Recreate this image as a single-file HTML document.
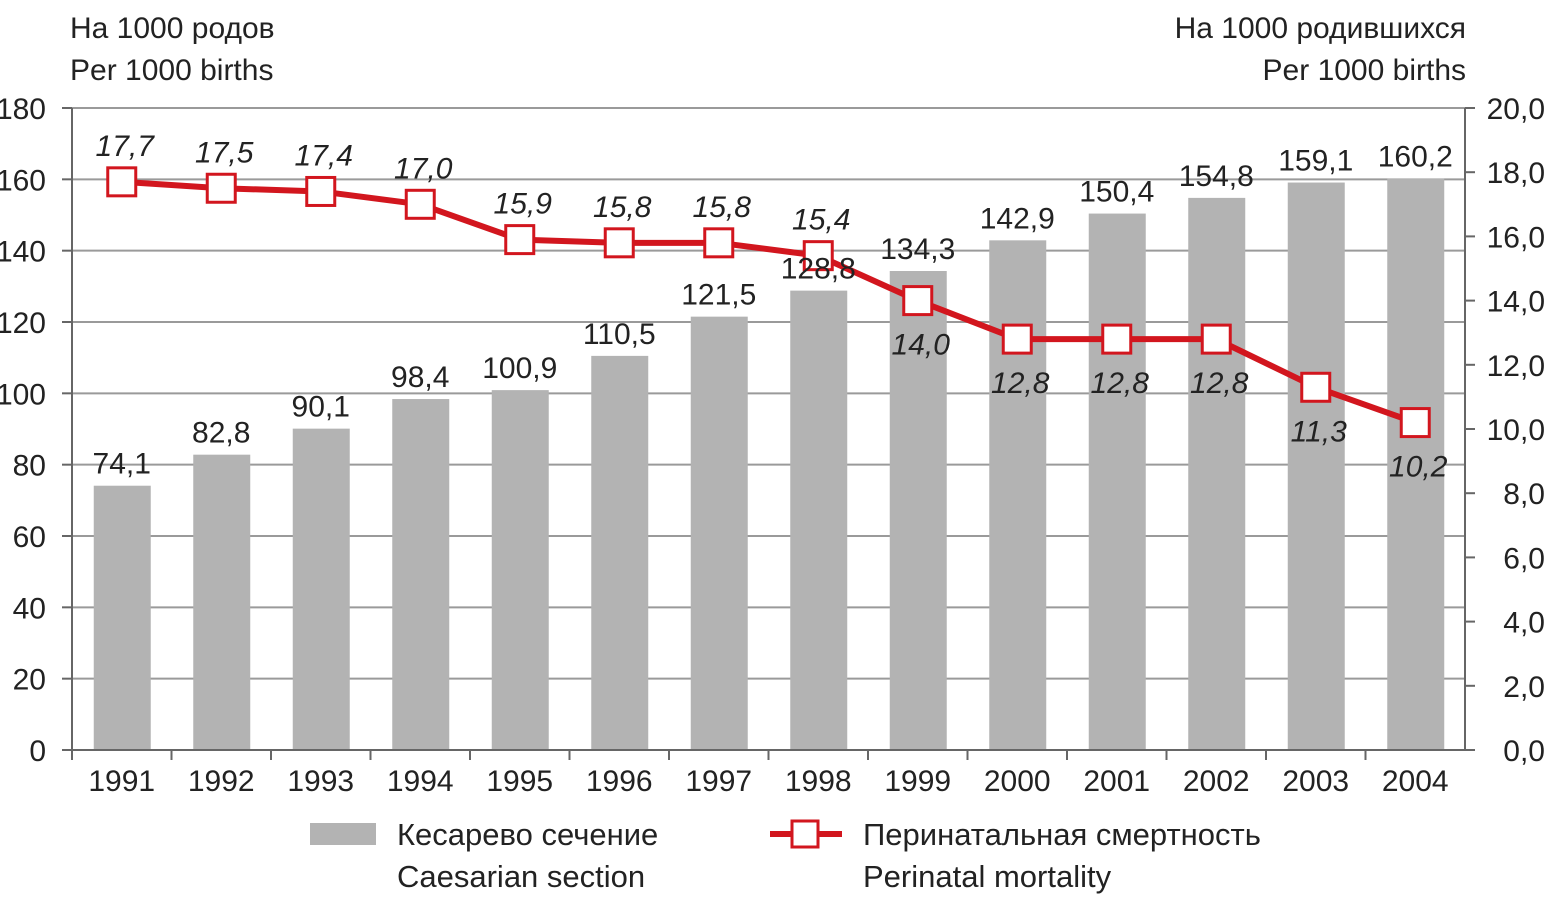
<!DOCTYPE html>
<html><head><meta charset="utf-8"><style>
html,body{margin:0;padding:0;background:#fff;}
svg{display:block;font-family:"Liberation Sans Narrow","Liberation Sans",sans-serif;}
</style></head><body>
<svg id="chart" width="1547" height="903" viewBox="0 0 1547 903" xmlns="http://www.w3.org/2000/svg">
<g font-size="30" fill="#222">
<text x="70" y="38">На 1000 родов</text><text x="70" y="80">Per 1000 births</text></g>
<g font-size="30" fill="#222" text-anchor="end">
<text x="1466" y="38">На 1000 родившихся</text><text x="1466" y="80">Per 1000 births</text></g>
<g id="grid"></g><g id="bars"></g><g id="axes"></g><g id="line"></g><g id="labels"></g>
<g font-size="31" fill="#222">
<rect x="310" y="823" width="66" height="22" fill="#b3b3b3"/>
<text x="397" y="845">Кесарево сечение</text><text x="397" y="887">Caesarian section</text>
<line x1="770" y1="834" x2="842" y2="834" stroke="#d2161e" stroke-width="6"/>
<rect x="792" y="821" width="26" height="26" fill="#fff" stroke="#d2161e" stroke-width="3"/>
<text x="863" y="845">Перинатальная смертность</text><text x="863" y="887">Perinatal mortality</text>
</g>
</svg>
<script>
const years=["1991","1992","1993","1994","1995","1996","1997","1998","1999","2000","2001","2002","2003","2004"];
const caesarean=[74.1,82.8,90.1,98.4,100.9,110.5,121.5,128.8,134.3,142.9,150.4,154.8,159.1,160.2];
const mortality=[17.7,17.5,17.4,17.0,15.9,15.8,15.8,15.4,14.0,12.8,12.8,12.8,11.3,10.2];
const leftTicks=[0,20,40,60,80,100,120,140,160,180];
const rightTicks=[0,2,4,6,8,10,12,14,16,18,20];
const below=[false,false,false,false,false,false,false,false,true,true,true,true,true,true];
const NS="http://www.w3.org/2000/svg";
const X0=72,X1=1465,Y0=750,Y1=108;
const band=(X1-X0)/years.length;
const xc=i=>X0+band*(i+0.5);
const yL=v=>Y0-(v/180)*(Y0-Y1);
const yR=v=>Y0-(v/20)*(Y0-Y1);
const fmt=v=>v.toFixed(1).replace('.',',');
function mk(tag,attrs,parent,txt){const e=document.createElementNS(NS,tag);for(const k in attrs)e.setAttribute(k,attrs[k]);if(txt!==undefined)e.textContent=txt;document.getElementById(parent).appendChild(e);return e;}
leftTicks.forEach(t=>{
 if(t>0){const g=mk('line',{x1:X0,x2:X1,y1:yL(t),y2:yL(t),stroke:'#9a9a9a','stroke-width':2},'grid');
 
 }
 const tk=mk('line',{x1:X0-10,x2:X0,y1:yL(t),y2:yL(t),stroke:'#666','stroke-width':2},'axes');
 
 
 const l=mk('text',{x:46,y:yL(t)+11,'font-size':30,fill:'#222','text-anchor':'end'},'axes',String(t));
 
 
});
rightTicks.forEach(t=>{
 const tk=mk('line',{x1:X1,x2:X1+10,y1:yR(t),y2:yR(t),stroke:'#666','stroke-width':2},'axes');
 
 
 const l=mk('text',{x:1545,y:yR(t)+11,'font-size':30,fill:'#222','text-anchor':'end'},'axes',fmt(t));
 
 
});
const ax=mk('path',{d:`M${X0} ${Y1}V${Y0}H${X1}V${Y1}`,fill:'none',stroke:'#666','stroke-width':2},'axes');


years.forEach((y,i)=>{
 const b=mk('rect',{x:xc(i)-28,y:yL(caesarean[i]),width:57,height:Y0-yL(caesarean[i]),fill:'#b3b3b3'},'bars');
 
 
 const tk=mk('line',{x1:X0+band*i,x2:X0+band*i,y1:Y0,y2:Y0+10,stroke:'#666','stroke-width':2},'axes');
 
 
 const xl=mk('text',{x:xc(i),y:791,'font-size':30,fill:'#222','text-anchor':'middle'},'axes',y);
 
 
 const bl=mk('text',{x:xc(i),y:yL(caesarean[i])-12,'font-size':30,fill:'#222','text-anchor':'middle'},'labels',fmt(caesarean[i]));
 
 
});
const pl=mk('polyline',{points:mortality.map((v,i)=>xc(i)+','+yR(v)).join(' '),fill:'none',stroke:'#d2161e','stroke-width':6,'stroke-linejoin':'round'},'line');


mortality.forEach((v,i)=>{
 const m=mk('rect',{x:xc(i)-14,y:yR(v)-14,width:28,height:28,fill:'#fff',stroke:'#d2161e','stroke-width':3},'line');
 
 
 const ty=below[i]?yR(v)+54:yR(v)-26;
 const t=mk('text',{x:xc(i)+3,y:ty,'font-size':30,'font-style':'italic',fill:'#222','text-anchor':'middle'},'labels',fmt(v));
 
 
});
</script>
</body></html>
